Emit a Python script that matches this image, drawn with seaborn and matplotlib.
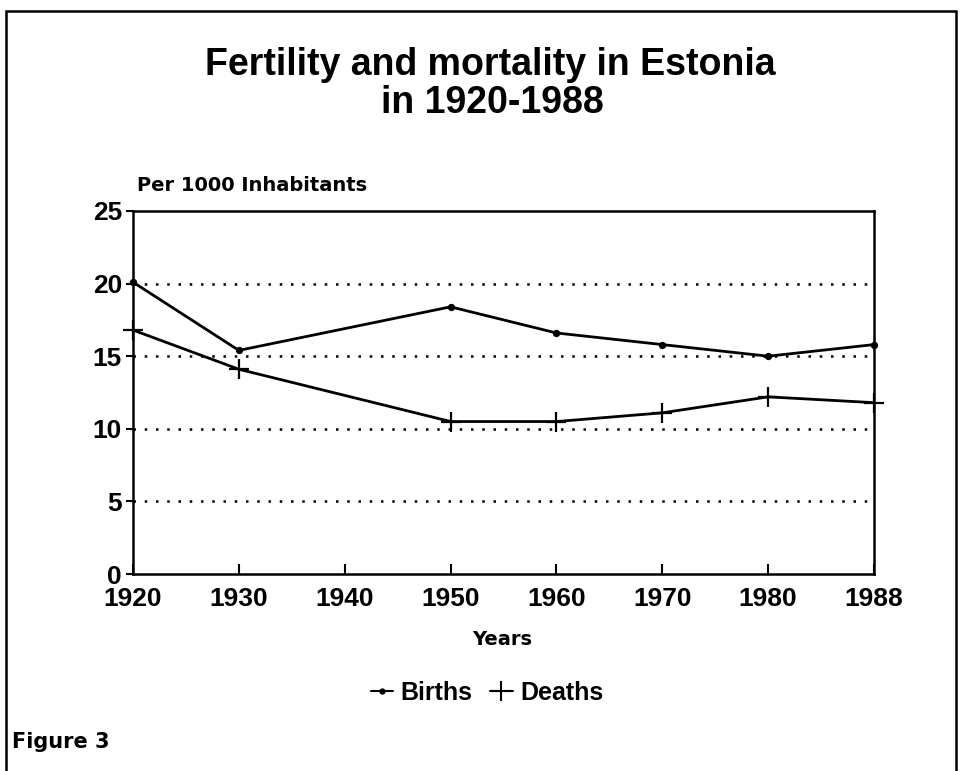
import matplotlib
matplotlib.use("Agg")
import matplotlib.pyplot as plt
import seaborn as sns
import pandas as pd
from matplotlib.patches import Rectangle
from matplotlib.lines import Line2D

# ---- data ----
categories = ["1920", "1930", "1940", "1950", "1960", "1970", "1980", "1988"]
birth_years = ["1920", "1930", "1950", "1960", "1970", "1980", "1988"]
births = [20.1, 15.4, 18.4, 16.6, 15.8, 15.0, 15.8]
death_years = ["1920", "1930", "1950", "1960", "1970", "1980", "1988"]
deaths = [16.8, 14.1, 10.5, 10.5, 11.1, 12.2, 11.8]
y_ticks = [0, 5, 10, 15, 20, 25]

sns.set_theme(style="white")
plt.rcParams['font.family'] = ['Liberation Sans', 'DejaVu Sans']
plt.rcParams['text.color'] = 'black'
plt.rcParams['xtick.color'] = 'black'
plt.rcParams['ytick.color'] = 'black'
plt.rcParams['axes.labelcolor'] = 'black'

df_b = pd.DataFrame({"pos": [categories.index(y) for y in birth_years], "val": births})
df_d = pd.DataFrame({"pos": [categories.index(y) for y in death_years], "val": deaths})

fig = plt.figure(figsize=(9.6, 7.71), dpi=100)
ax = fig.add_axes([133/960, 1-574/771, (874-133)/960, (574-211)/771])

for yv in y_ticks[1:-1]:
    ax.axhline(yv, color="black", lw=1.8, linestyle=(0, (1, 3.5)), zorder=1)

sns.lineplot(data=df_b, x="pos", y="val", ax=ax, color="black", lw=2,
             marker="o", markersize=4.5, markeredgecolor="black", clip_on=False, zorder=3)
sns.lineplot(data=df_d, x="pos", y="val", ax=ax, color="black", lw=2,
             marker="+", markersize=15, markeredgewidth=1.6, markeredgecolor="black",
             clip_on=False, zorder=3)

ax.set_xlim(0, len(categories) - 1)
ax.set_ylim(0, 25)
ax.set_xticks(range(len(categories)))
ax.set_xticklabels(categories)
ax.set_yticks(y_ticks)
ax.set_yticklabels([str(v) for v in y_ticks])

for lab in ax.get_xticklabels() + ax.get_yticklabels():
    lab.set_fontweight("bold")
    lab.set_fontsize(19)

ax.tick_params(axis="x", direction="in", length=7, width=1.5, pad=9, bottom=True)
ax.tick_params(axis="y", direction="out", length=5, width=1.5, pad=3, left=True)

for s in ax.spines.values():
    s.set_color("black")
    s.set_linewidth(1.8)

ax.set_xlabel("")
ax.set_ylabel("")

wide = ['DejaVu Sans']
fig.text(137/960, 1-191/771, "Per 1000 Inhabitants", fontsize=14, fontweight="bold",
         family=wide, ha="left", va="baseline")
fig.text(502/960, 1-645/771, "Years", fontsize=14, fontweight="bold",
         family=wide, ha="center", va="baseline")

fig.text(490/960, 1-75/771, "Fertility and mortality in Estonia",
         fontsize=27, fontweight="bold", ha="center", va="baseline")
fig.text(492/960, 1-113/771, "in 1920-1988",
         fontsize=27, fontweight="bold", ha="center", va="baseline")

fig.text(12/960, 1-748/771, "Figure 3", fontsize=15, fontweight="bold", family=wide,
         ha="left", va="baseline")

handles = [Line2D([], [], color="black", lw=1.5, marker="o", markersize=3.5),
           Line2D([], [], color="black", lw=1.5, marker="+", markersize=15, markeredgewidth=1.5)]
fig.legend(handles, ["Births", "Deaths"], loc="center", bbox_to_anchor=(487/960, 1-693/771),
           ncol=2, frameon=False, handlelength=0.9, handletextpad=0.3, columnspacing=0.7,
           prop={"weight": "bold", "size": 18})

fig.patches.append(Rectangle((6/960, -0.05), (956-6)/960, 1.05 - 11/771,
                             transform=fig.transFigure, fill=False, edgecolor="black",
                             lw=1.8, figure=fig))

fig.savefig("out.png", dpi=100, facecolor="white")
